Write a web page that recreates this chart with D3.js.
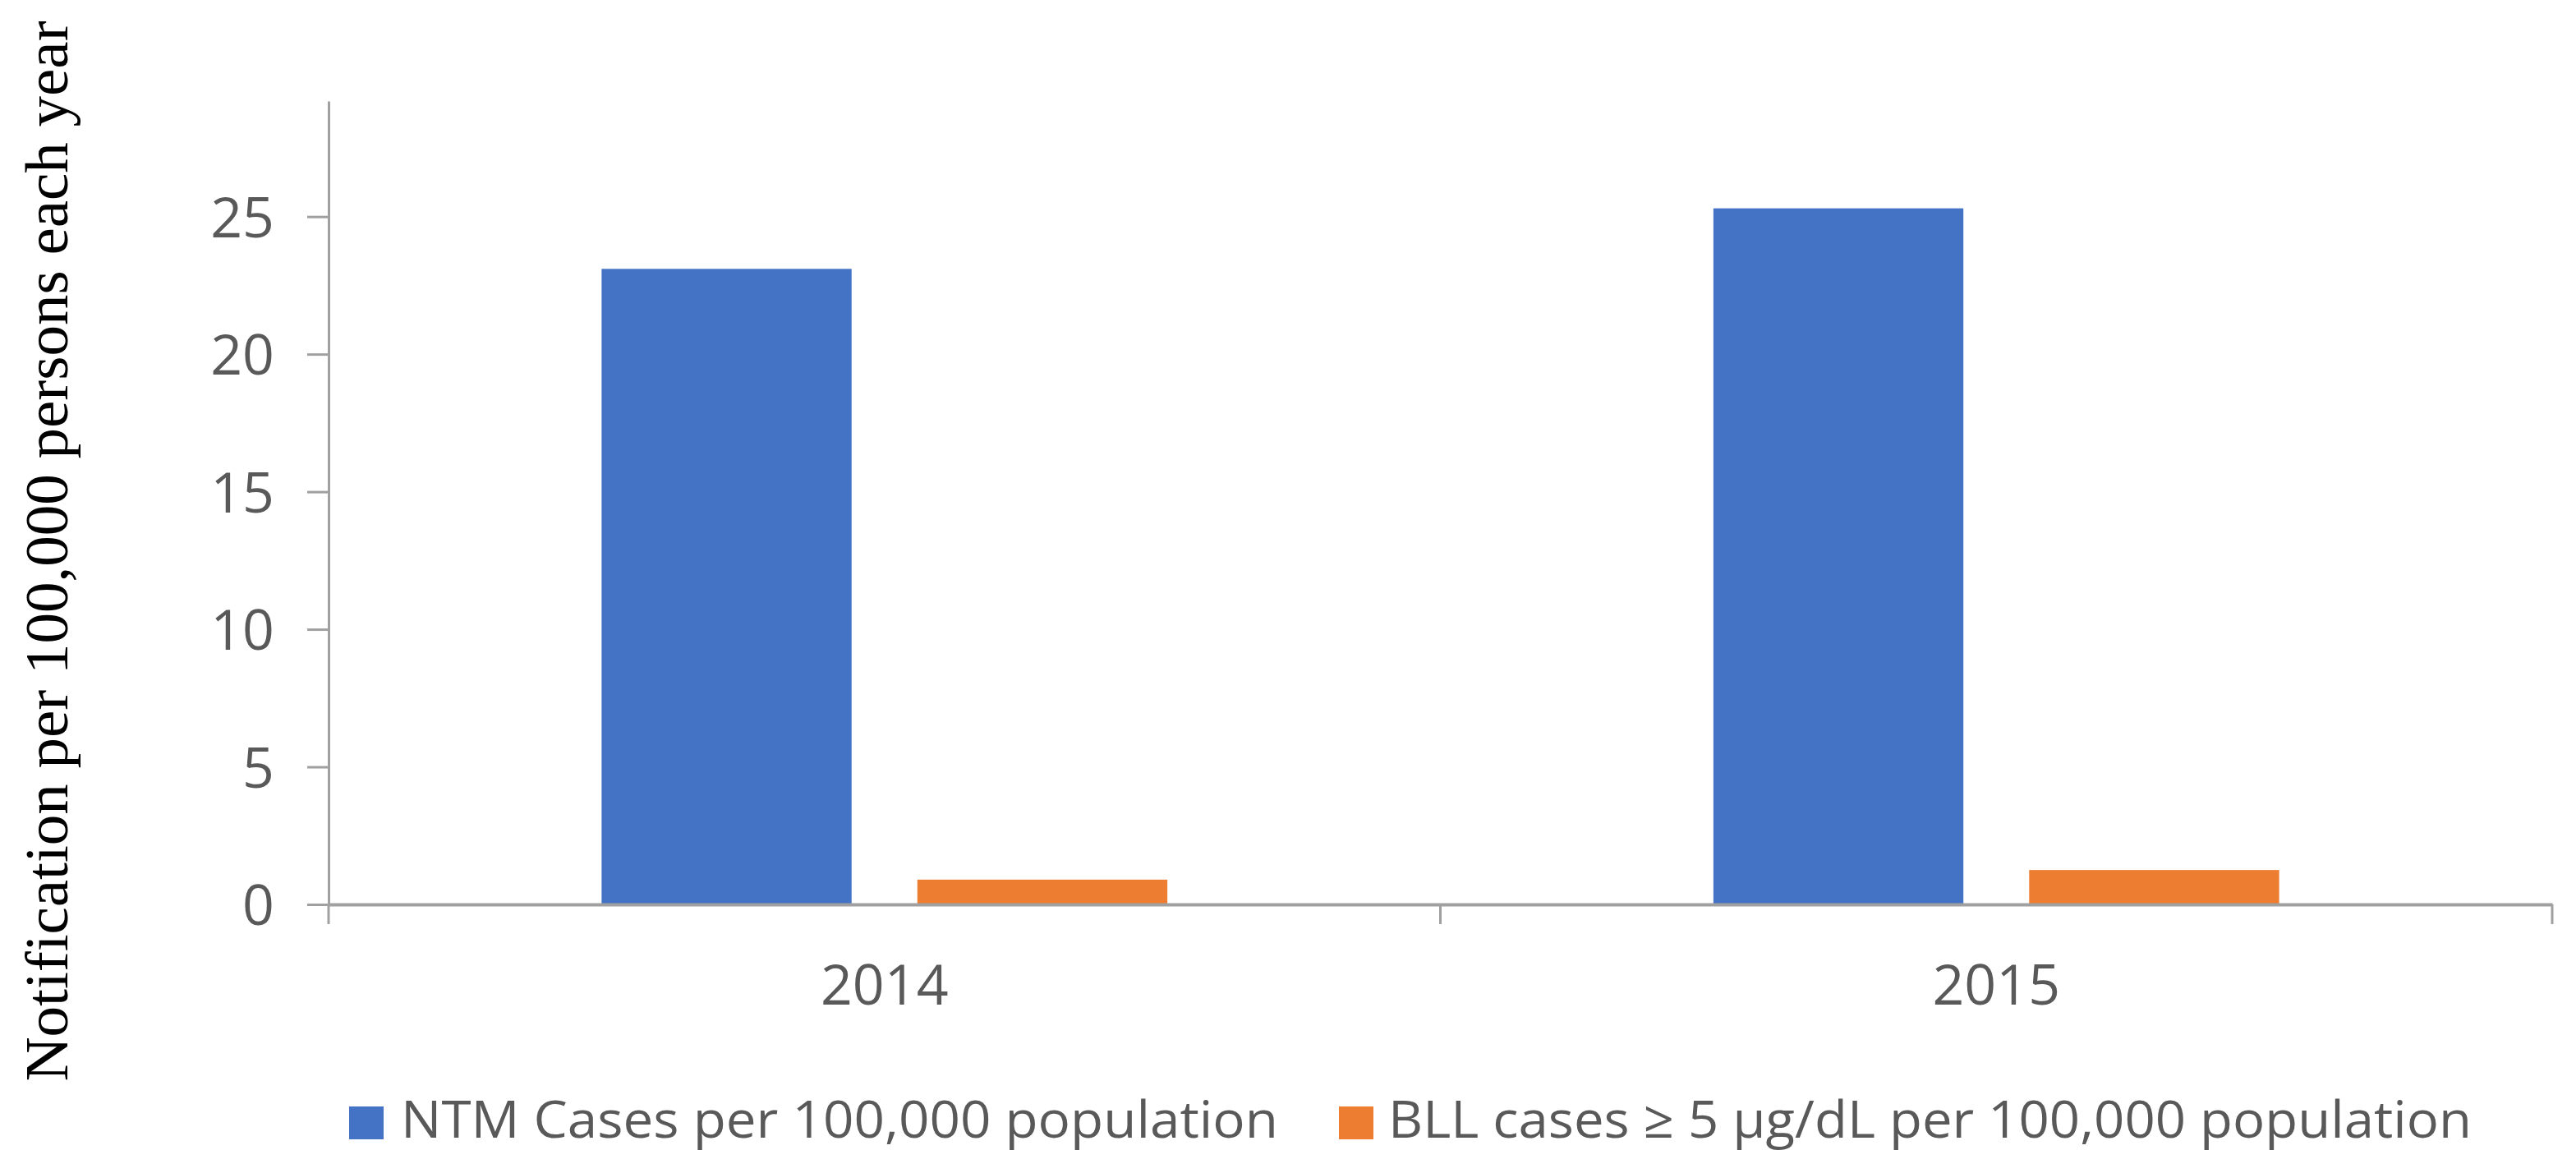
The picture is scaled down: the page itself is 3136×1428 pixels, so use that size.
<!DOCTYPE html>
<html>
<head>
<meta charset="utf-8">
<script src="https://cdn.jsdelivr.net/npm/d3@7"></script>
<style>
  html, body { margin: 0; padding: 0; background: #fff; }
  svg { display: block; }
  .tick text, .legend text { font-family: 'Open Sans', sans-serif; fill: #595959; }
</style>
</head>
<body>
<svg id="chart" width="3136" height="1428"></svg>
<script>
const years = ['2014', '2015']
const seriesNames = [
  'NTM Cases per 100,000 population',
  'BLL cases \u2265 5 \u00b5g/dL per 100,000 population'
]
const ntmValues = [23.1, 25.3]
const bllValues = [0.9, 1.25]
const yTicks = [0, 5, 10, 15, 20, 25]
const colors = ['#4472C4', '#ED7D31']

const plotLeft = 400
const plotRight = 3107
const plotTop = 123
const plotBottom = 1101
const axisGray = '#a0a0a0'

const svg = d3.select('#chart')

const x0 = d3.scaleBand().domain(years).range([plotLeft, plotRight]).padding(0)
const x1 = d3.scaleBand().domain(seriesNames).range([0, x0.bandwidth()])
  .paddingInner(0.2083).paddingOuter(0.8646)
const y = d3.scaleLinear().domain([0, 29.2]).range([plotBottom, plotTop])

const rows = years.map((year, i) => ({ year, values: [ntmValues[i], bllValues[i]] }))

// bars
const groups = svg.append('g').selectAll('g').data(rows).enter().append('g')
  .attr('transform', d => `translate(${x0(d.year)},0)`)

groups.selectAll('rect')
  .data(d => d.values.map((v, i) => ({ name: seriesNames[i], value: v, color: colors[i] })))
  .enter().append('rect')
  .attr('x', d => x1(d.name))
  .attr('y', d => y(d.value))
  .attr('width', x1.bandwidth())
  .attr('height', d => y(0) - y(d.value))
  .attr('fill', d => d.color)

// y axis
const yAxis = svg.append('g')
  .attr('transform', `translate(${plotLeft},0)`)
  .call(d3.axisLeft(y).tickValues(yTicks).tickSize(26).tickSizeOuter(0).tickPadding(40))
yAxis.select('.domain').attr('stroke', axisGray).attr('stroke-width', 3)
yAxis.selectAll('.tick line').attr('stroke', axisGray).attr('stroke-width', 3)
yAxis.selectAll('.tick text').attr('font-size', 68).attr('dy', '0.36em')

// x axis: labels at category centres, ticks at category boundaries
const xAxis = svg.append('g')
  .attr('transform', `translate(0,${plotBottom})`)
  .call(d3.axisBottom(x0).tickSize(0).tickSizeOuter(0).tickPadding(122))
xAxis.select('.domain').attr('stroke', axisGray).attr('stroke-width', 4)
xAxis.selectAll('.tick text').attr('font-size', 68).attr('dy', 0)

const boundaries = [x0.range()[0], ...years.map(d => x0(d) + x0.bandwidth())]
xAxis.selectAll('line.bound').data(boundaries).enter().append('line')
  .attr('class', 'bound')
  .attr('x1', d => d).attr('x2', d => d)
  .attr('y1', 0).attr('y2', 24)
  .attr('stroke', axisGray).attr('stroke-width', 3)

// y axis title
svg.append('text')
  .attr('transform', `translate(82,${(25 + 1317) / 2}) rotate(-90)`)
  .attr('text-anchor', 'middle')
  .attr('font-family', "'Liberation Serif', 'Times New Roman', serif")
  .attr('font-size', 75)
  .attr('fill', '#000')
  .text('Notification per 100,000 persons each year')

// legend
const legendItems = [
  { name: seriesNames[0], color: colors[0], sx: 425, tx: 488, tw: 1068 },
  { name: seriesNames[1], color: colors[1], sx: 1630, tx: 1690, tw: 1319 }
]
const legend = svg.append('g').attr('class', 'legend')
const item = legend.selectAll('g').data(legendItems).enter().append('g')
item.append('rect')
  .attr('x', d => d.sx).attr('y', 1347)
  .attr('width', 42).attr('height', 40)
  .attr('fill', d => d.color)
item.append('text')
  .attr('x', d => d.tx).attr('y', 1385)
  .attr('font-size', 63)
  .attr('textLength', d => d.tw)
  .attr('lengthAdjust', 'spacingAndGlyphs')
  .text(d => d.name)
</script>
</body>
</html>
